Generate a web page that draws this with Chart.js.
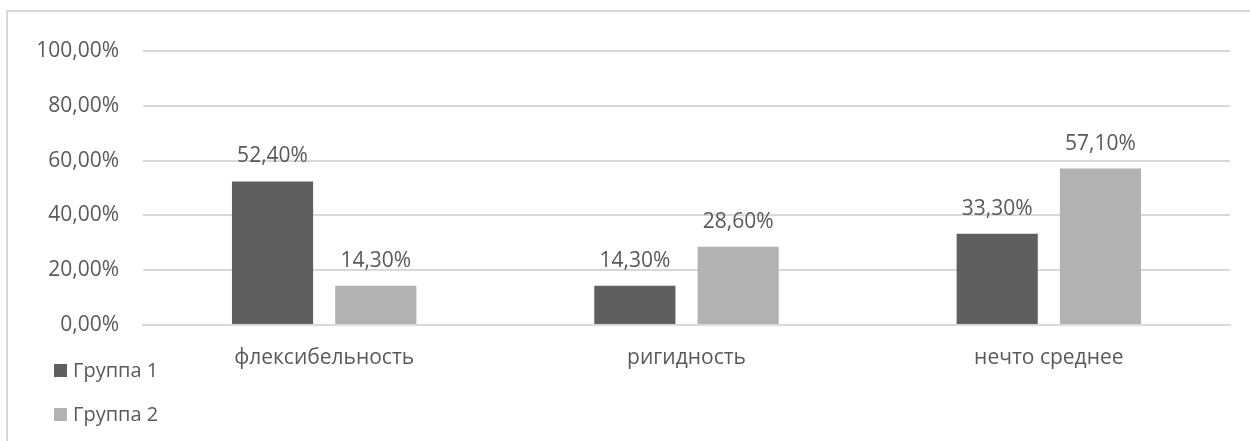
<!DOCTYPE html>
<html>
    <head>
        <meta charset="UTF-8">
        <title>Группы</title>
        <script src="https://cdn.jsdelivr.net/npm/chart.js@4/dist/chart.umd.min.js"></script>
        <style>
            body { margin:0; background:#fff; }
            #wrap { position:relative; width:1250px; height:441px; overflow:hidden; }
            #frame { position:absolute; left:6px; top:10px; width:1300px; height:500px; border:2px solid #d9d9d9; box-sizing:border-box; }
            #chartBox { position:absolute; left:0; top:0; width:1250px; height:441px; }
        </style>
    </head>
    <body>
        <div id="wrap">
            <div id="frame"></div>
            <div id="chartBox"><canvas id="chart"></canvas></div>
        </div>

        <script>
            const categories = ["флексибельность", "ригидность", "нечто среднее"];
            const group1 = [52.4, 14.3, 33.3];
            const group2 = [14.3, 28.6, 57.1];
            const seriesNames = ["Группа 1", "Группа 2"];
            const seriesColors = ["#5f5f5f", "#b2b2b2"];
            const yTicks = [0, 20, 40, 60, 80, 100];

            const textColor = "#595959";
            const fontFamily = "'Open Sans', sans-serif";

            function pct(v){
                return v.toFixed(2).replace(".", ",") + "%";
            }

            // value labels above each bar
            const barLabels = {
                id: "barLabels",
                afterDatasetsDraw(chart){
                    const ctx = chart.ctx;
                    ctx.save();
                    ctx.font = "21px " + fontFamily;
                    ctx.fillStyle = textColor;
                    ctx.textAlign = "center";
                    ctx.textBaseline = "middle";
                    chart.data.datasets.forEach((ds, i) => {
                        chart.getDatasetMeta(i).data.forEach((bar, j) => {
                            ctx.fillText(pct(ds.data[j]), bar.x, bar.y - 25);
                        });
                    });
                    ctx.restore();
                }
            };

            // legend stacked in the lower left corner
            const stackedLegend = {
                id: "stackedLegend",
                afterDraw(chart){
                    const ctx = chart.ctx;
                    ctx.save();
                    ctx.font = "20px " + fontFamily;
                    ctx.textBaseline = "middle";
                    chart.data.datasets.forEach((ds, i) => {
                        const y = 371 + i * 44;
                        ctx.fillStyle = ds.backgroundColor;
                        ctx.fillRect(54, y - 7, 13, 13);
                        ctx.fillStyle = textColor;
                        ctx.fillText(ds.label, 73, y);
                    });
                    ctx.restore();
                }
            };

            const chart = new Chart(document.getElementById("chart"), {
                type: "bar",
                data: {
                    labels: categories,
                    datasets: [
                        { label: seriesNames[0], data: group1, backgroundColor: seriesColors[0] },
                        { label: seriesNames[1], data: group2, backgroundColor: seriesColors[1] }
                    ]
                },
                options: {
                    responsive: true,
                    maintainAspectRatio: false,
                    animation: false,
                    categoryPercentage: 0.57,
                    barPercentage: 0.786,
                    layout: { padding: { top: 51, right: 20, bottom: 0, left: 0 } },
                    plugins: {
                        legend: { display: false },
                        tooltip: { enabled: false }
                    },
                    scales: {
                        x: {
                            grid: { display: false, drawTicks: false },
                            border: { color: "#d9d9d9", width: 2 },
                            ticks: {
                                color: textColor,
                                font: { family: fontFamily, size: 21 },
                                padding: 20,
                                maxRotation: 0
                            },
                            afterFit(scale){ scale.height = 116; }
                        },
                        y: {
                            min: 0,
                            max: 100,
                            afterBuildTicks(scale){
                                scale.ticks = yTicks.map(v => ({ value: v }));
                            },
                            grid: { color: "#d9d9d9", lineWidth: 2, drawTicks: false },
                            border: { display: false },
                            ticks: {
                                color: textColor,
                                font: { family: fontFamily, size: 21 },
                                padding: 24,
                                callback: v => pct(v)
                            },
                            afterFit(scale){ scale.width = 143; }
                        }
                    }
                },
                plugins: [barLabels, stackedLegend]
            });
        </script>
    </body>
</html>
